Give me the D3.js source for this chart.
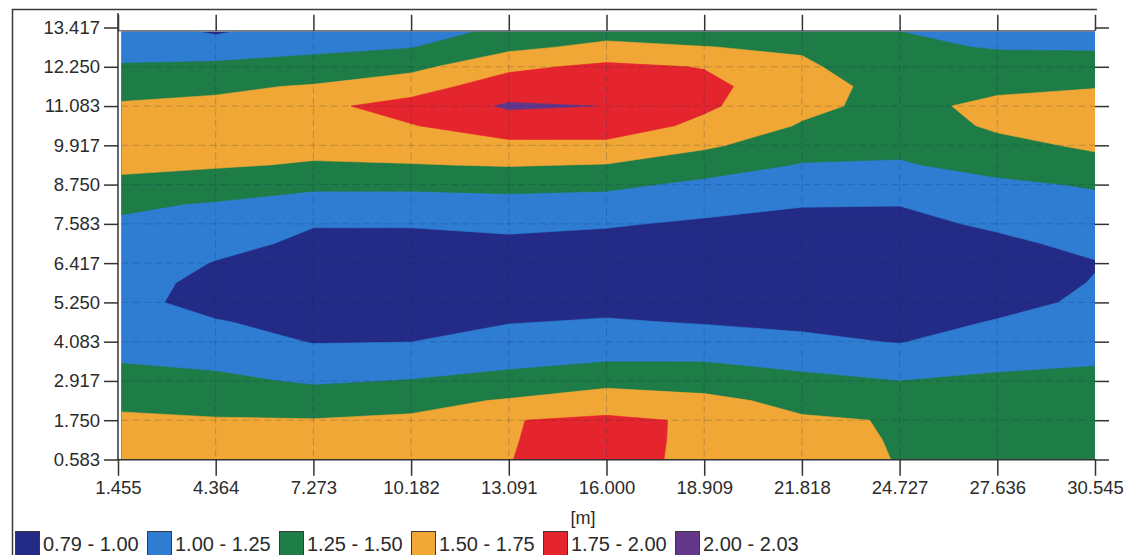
<!DOCTYPE html>
<html>
<head>
<meta charset="utf-8">
<script src="https://cdn.jsdelivr.net/npm/d3@7"></script>
<style>
  body { margin: 0; background: #fff; }
  svg { display: block; }
  text { font-family: "Liberation Sans", Arial, sans-serif; fill: #2b2b2b; }
</style>
</head>
<body>
<svg id="chart" width="1142" height="555"></svg>
<script>
// Axis ticks (distance along the line and depth, in metres)
const xTicks = [1.455, 4.364, 7.273, 10.182, 13.091, 16.000, 18.909, 21.818, 24.727, 27.636, 30.545];
const yTicks = [0.583, 1.750, 2.917, 4.083, 5.250, 6.417, 7.583, 8.750, 9.917, 11.083, 12.250, 13.417];

// Grid node positions: columns along x, rows from top to bottom
const gridX = [1.455, 4.364, 7.273, 10.182, 13.091, 16.000, 18.909, 21.818, 24.727, 27.636, 30.545];
const gridY = [13.417, 12.833, 12.250, 11.667, 11.083, 10.500, 9.917, 9.333, 8.750, 8.167, 7.583, 7.000,
               6.417, 5.833, 5.250, 4.667, 4.083, 3.500, 2.917, 2.333, 1.750, 1.167, 0.583];

// Measured values, one vertical profile per grid column (top to bottom)
const profileX01 = [1.10, 1.18, 1.265, 1.41, 1.525, 1.58, 1.60, 1.54, 1.46, 1.29, 1.22, 1.17, 1.12, 1.08, 1.05, 1.11, 1.18, 1.24, 1.35, 1.46, 1.53, 1.575, 1.62];
const profileX02 = [0.93, 1.12, 1.30, 1.46, 1.55, 1.63, 1.60, 1.525, 1.38, 1.23, 1.15, 1.06, 0.99, 0.945, 0.945, 1.01, 1.10, 1.20, 1.30, 1.42, 1.515, 1.57, 1.63];
const profileX03 = [1.10, 1.20, 1.33, 1.52, 1.70, 1.64, 1.57, 1.48, 1.30, 1.15, 1.01, 0.96, 0.93, 0.89, 0.91, 0.95, 0.99, 1.095, 1.22, 1.37, 1.51, 1.565, 1.62];
const profileX04 = [1.12, 1.24, 1.43, 1.65, 1.83, 1.74, 1.62, 1.49, 1.30, 1.15, 1.01, 0.96, 0.91, 0.86, 0.90, 0.95, 0.998, 1.13, 1.26, 1.43, 1.535, 1.60, 1.66];
const profileX05 = [1.28, 1.44, 1.70, 1.87, 2.03, 1.87, 1.70, 1.515, 1.32, 1.17, 1.05, 0.955, 0.88, 0.83, 0.91, 0.99, 1.09, 1.19, 1.33, 1.52, 1.74, 1.74, 1.745];
const profileX06 = [1.36, 1.565, 1.80, 1.92, 1.996, 1.89, 1.69, 1.49, 1.30, 1.15, 1.02, 0.93, 0.85, 0.84, 0.925, 1.02, 1.13, 1.245, 1.44, 1.60, 1.80, 1.83, 1.85];
const profileX07 = [1.38, 1.505, 1.74, 1.81, 1.79, 1.69, 1.54, 1.36, 1.20, 1.07, 0.97, 0.89, 0.79, 0.85, 0.92, 0.985, 1.11, 1.245, 1.40, 1.555, 1.72, 1.70, 1.68];
const profileX08 = [1.40, 1.47, 1.54, 1.61, 1.56, 1.48, 1.36, 1.235, 1.12, 1.01, 0.945, 0.88, 0.82, 0.84, 0.90, 0.96, 1.04, 1.18, 1.31, 1.44, 1.525, 1.57, 1.62];
const profileX09 = [1.24, 1.29, 1.35, 1.40, 1.42, 1.36, 1.30, 1.23, 1.12, 1.005, 0.95, 0.90, 0.85, 0.85, 0.89, 0.94, 0.99, 1.11, 1.25, 1.37, 1.489, 1.485, 1.488];
const profileX10 = [1.12, 1.235, 1.34, 1.44, 1.57, 1.54, 1.43, 1.32, 1.21, 1.12, 1.03, 0.96, 0.91, 0.90, 0.95, 1.01, 1.11, 1.21, 1.28, 1.33, 1.38, 1.40, 1.40];
const profileX11 = [1.12, 1.225, 1.35, 1.49, 1.58, 1.62, 1.54, 1.42, 1.27, 1.19, 1.13, 1.05, 0.99, 1.01, 1.03, 1.12, 1.19, 1.24, 1.28, 1.32, 1.35, 1.39, 1.42];

// Colour classes
const bandBreaks = [0.79, 1.00, 1.25, 1.50, 1.75, 2.00];
const bandLabels = ["0.79 - 1.00", "1.00 - 1.25", "1.25 - 1.50", "1.50 - 1.75", "1.75 - 2.00", "2.00 - 2.03"];
const bandColors = ["#232b86", "#2f7dd2", "#1e7c46", "#f1a736", "#e5252d", "#64378a"];

const profiles = [profileX01, profileX02, profileX03, profileX04, profileX05, profileX06,
                  profileX07, profileX08, profileX09, profileX10, profileX11];

const svg = d3.select("#chart");
const W = 1142, H = 555;

const x = d3.scaleLinear().domain([1.455, 30.545]).range([118, 1095]);
const y = d3.scaleLinear().domain([0.583, 13.417]).range([459.5, 27.5]);
const plot = { left: 121.5, top: 31.5, right: 1095, bottom: 459.5 };
const color = d3.scaleThreshold().domain(bandBreaks.slice(1)).range(bandColors);

// outer frame
svg.append("path")
  .attr("d", `M12.5,${H} V9.5 H1097`)
  .attr("fill", "none").attr("stroke", "#3a3a3a").attr("stroke-width", 1.5);

// ---- contour fill ----
const nx = gridX.length, ny = gridY.length;
const values = new Array(nx * ny);
for (let j = 0; j < ny; j++) for (let i = 0; i < nx; i++) values[j * nx + i] = profiles[i][j];

const colIndex = d3.scaleLinear().domain([0.5, nx - 0.5]).range([gridX[0], gridX[nx - 1]]);
const rowIndex = d3.scaleLinear().domain([0.5, ny - 0.5]).range([gridY[0], gridY[ny - 1]]);
const projection = d3.geoTransform({
  point(u, v) { this.stream.point(x(colIndex(u)), y(rowIndex(v))); }
});
const path = d3.geoPath(projection);

svg.append("clipPath").attr("id", "plotClip")
  .append("rect")
  .attr("x", plot.left).attr("y", plot.top)
  .attr("width", plot.right - plot.left).attr("height", plot.bottom - plot.top);

const bands = d3.contours().size([nx, ny]).thresholds(bandBreaks)(values);

const field = svg.append("g").attr("clip-path", "url(#plotClip)");
field.selectAll("path.band")
  .data(bands)
  .join("path")
  .attr("class", "band")
  .attr("d", path)
  .attr("fill", d => color(d.value))
  .attr("stroke", d => color(d.value))
  .attr("stroke-width", 0.6);

// faint dashed grid
const grid = field.append("g")
  .attr("stroke", "#0d2250").attr("stroke-opacity", 0.22)
  .attr("stroke-width", 1).attr("stroke-dasharray", "7,4");
grid.selectAll("line.gx").data(xTicks.slice(1, -1)).join("line")
  .attr("x1", d => x(d)).attr("x2", d => x(d))
  .attr("y1", plot.top).attr("y2", plot.bottom);
grid.selectAll("line.gy").data(yTicks.slice(1, -1)).join("line")
  .attr("x1", plot.left).attr("x2", plot.right)
  .attr("y1", d => y(d)).attr("y2", d => y(d));

// plot edges
svg.append("line").attr("x1", 118).attr("x2", plot.right).attr("y1", 30.8).attr("y2", 30.8)
  .attr("stroke", "#7a7a7a").attr("stroke-width", 1.5);
svg.append("line").attr("x1", 118).attr("x2", 118).attr("y1", 13).attr("y2", 460.5)
  .attr("stroke", "#333").attr("stroke-width", 1.5);
svg.append("line").attr("x1", 118).attr("x2", plot.right + 1).attr("y1", 459.8).attr("y2", 459.8)
  .attr("stroke", "#333").attr("stroke-width", 1.5);

const fmt = d3.format(".3f");

function styleAxis(g) {
  g.select(".domain").remove();
  g.selectAll(".tick line").attr("stroke", "#333").attr("stroke-width", 1.5);
  g.selectAll(".tick text").attr("fill", "#2b2b2b").style("font-size", "18.5px")
    .style("font-family", '"Liberation Sans", Arial, sans-serif');
}

svg.append("g").attr("transform", "translate(118,0)")
  .call(d3.axisLeft(y).tickValues(yTicks).tickFormat(fmt).tickSize(14).tickPadding(4))
  .call(styleAxis);

svg.append("g").attr("transform", "translate(0,459.8)")
  .call(d3.axisBottom(x).tickValues(xTicks).tickFormat(fmt).tickSize(16).tickPadding(5))
  .call(styleAxis);

svg.append("g").attr("transform", "translate(0,30.8)")
  .call(d3.axisTop(x).tickValues(xTicks).tickFormat("").tickSize(16))
  .call(styleAxis);

svg.append("g").attr("transform", `translate(${plot.right},0)`)
  .call(d3.axisRight(y).tickValues(yTicks).tickFormat("").tickSize(14))
  .call(styleAxis);

// axis unit
svg.append("text").attr("x", 583).attr("y", 524)
  .attr("text-anchor", "middle").style("font-size", "18px").text("[m]");

// ---- legend ----
const legend = svg.append("g").attr("transform", "translate(15,531)");
const item = legend.selectAll("g.item").data(bandLabels).join("g")
  .attr("class", "item")
  .attr("transform", (d, i) => `translate(${i * 132},0)`);
item.append("rect")
  .attr("x", 0.5).attr("y", 0.5).attr("width", 24).attr("height", 24)
  .attr("fill", (d, i) => bandColors[i])
  .attr("stroke", "#3a3a3a").attr("stroke-width", 1);
item.append("text")
  .attr("x", 28).attr("y", 20)
  .style("font-size", "20px")
  .text(d => d);
</script>
</body>
</html>
